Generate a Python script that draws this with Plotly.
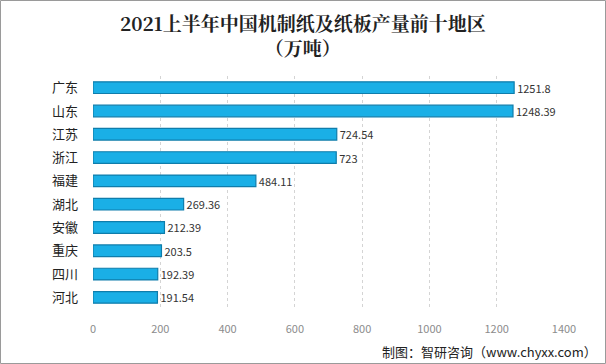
import plotly.graph_objects as go

regions = ["广东", "山东", "江苏", "浙江", "福建", "湖北", "安徽", "重庆", "四川", "河北"]
values = [1251.8, 1248.39, 724.54, 723, 484.11, 269.36, 212.39, 203.5, 192.39, 191.54]
value_labels = ["1251.8", "1248.39", "724.54", "723", "484.11", "269.36", "212.39", "203.5", "192.39", "191.54"]
x_ticks = [0, 200, 400, 600, 800, 1000, 1200, 1400]

W, H = 606, 364
L, R, T, B = 93, 42, 76, 55
PW, PH = W - L - R, H - T - B


def px(x):
    return (x - L) / PW


def py(y):
    return 1 - (y - T) / PH


fig = go.Figure()
fig.add_trace(go.Bar(
    y=regions, x=values, orientation="h",
    text=value_labels, textposition="outside", constraintext="none",
    textfont=dict(size=11, color="#333333", family="Noto Sans CJK SC"),
    marker=dict(color="#1AAFE6", line=dict(color="#0F7DAB", width=1.2)),
    width=0.5, cliponaxis=False,
))

fig.update_layout(
    width=W, height=H,
    margin=dict(l=L, r=R, t=T, b=B, autoexpand=False),
    paper_bgcolor="white", plot_bgcolor="white",
    showlegend=False,
    xaxis=dict(
        range=[0, 1400], tickvals=x_ticks, automargin=False,
        showgrid=True, gridcolor="#D4D4D4", griddash="dot", gridwidth=1,
        zeroline=False, showline=False,
        tickfont=dict(size=11, color="#8C8C8C", family="Noto Sans CJK SC"),
        ticklabelstandoff=12,
    ),
    yaxis=dict(
        autorange="reversed", showgrid=False, zeroline=False, showline=False,
        automargin=False,
        tickfont=dict(size=13, color="#222222", family="Noto Sans CJK SC"),
        ticklabelstandoff=14,
    ),
    bargap=0.5,
    shapes=[dict(type="rect", xref="paper", yref="paper",
                 x0=px(0.5), x1=px(W - 0.5), y0=py(H - 0.5), y1=py(0.5),
                 line=dict(color="#9A9A9A", width=1))],
    annotations=[
        dict(text="<b>2021上半年中国机制纸及纸板产量前十地区</b><br><b>（万吨）</b>",
             xref="paper", yref="paper",
             x=px(303), y=py(35), xanchor="center", yanchor="middle", showarrow=False,
             font=dict(size=19, color="#222222", family="Noto Serif CJK SC, Noto Sans CJK SC")),
        dict(text="制图：智研咨询（www.chyxx.com）", xref="paper", yref="paper",
             x=px(599), y=py(351), xanchor="right", yanchor="middle", showarrow=False,
             font=dict(size=13, color="#222222", family="Noto Sans CJK SC")),
    ],
)

fig.write_html("out.html", config={"displayModeBar": False},
               post_script="document.body.style.margin='0';document.body.style.overflow='hidden';")
